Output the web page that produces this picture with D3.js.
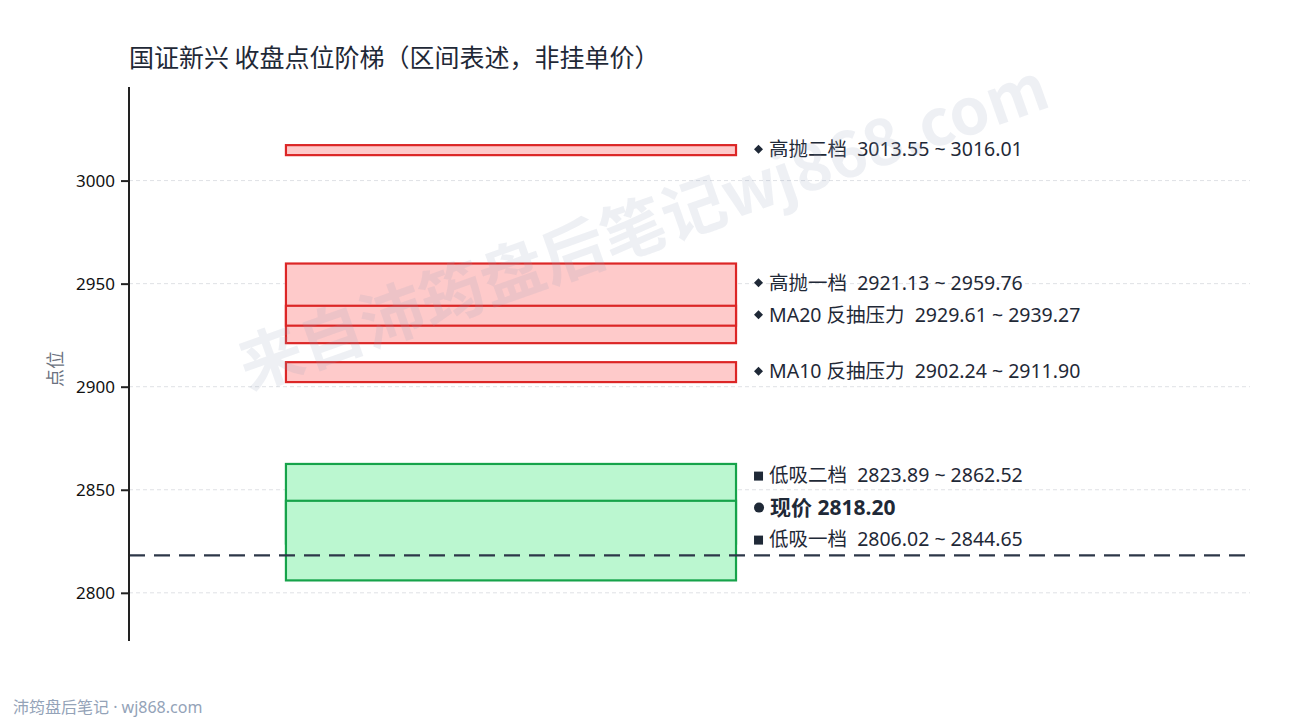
<!DOCTYPE html>
<html><head><meta charset="utf-8">
<script src="https://cdn.jsdelivr.net/npm/d3@7"></script>
<style>
html,body{margin:0;padding:0;background:#fff;}
svg{display:block;font-family:"Noto Sans","Noto Sans CJK SC",sans-serif;}
</style></head>
<body>
<svg id="chart" width="1290" height="720"></svg>
<script>
// ---- data ----
const zoneNames  = ["高抛二档", "高抛一档", "MA20 反抽压力", "MA10 反抽压力", "低吸二档", "低吸一档"];
const zoneLow    = [3013.55, 2921.13, 2929.61, 2902.24, 2823.89, 2806.02];
const zoneHigh   = [3016.01, 2959.76, 2939.27, 2911.90, 2862.52, 2844.65];
const zoneKind   = ["sell", "sell", "sell", "sell", "buy", "buy"];
const priceLabel = "现价";
const priceValue = 2818.20;
const yTicks     = [2800, 2850, 2900, 2950, 3000];
// label stacking order, top to bottom (zone index, or -1 for the price)
const labelOrder = [0, 1, 2, 3, 4, -1, 5];

const titleText = "国证新兴 收盘点位阶梯（区间表述，非挂单价）";
const yAxisTitle = "点位";
const footerText = "沛筠盘后笔记 · wj868.com";
const watermarkText = "来自沛筠盘后笔记wj868.com";

// ---- layout ----
const W = 1290, H = 720;
const L = 129, R = 1250, T = 87, B = 641;
const svg = d3.select("#chart");

const lo = d3.min(zoneLow), hi = d3.max(zoneHigh);
const pad = (hi - lo) * 0.14;
const y = d3.scaleLinear().domain([lo - pad, hi + pad]).range([B, T]);
const x = d3.scaleLinear().domain([0, 1]).range([L, R]);

// grid
svg.append("g").selectAll("line").data(yTicks).join("line")
  .attr("x1", L).attr("x2", R)
  .attr("y1", d => y(d)).attr("y2", d => y(d))
  .attr("stroke", "#dfe1e5").attr("stroke-width", 1).attr("stroke-dasharray", "4,3");

// zones
const colors = {
  sell: {fill: "#fecaca", stroke: "#dc2626"},
  buy:  {fill: "#bbf7d0", stroke: "#16a34a"}
};
const minH = 10;
const zoneIdx = d3.range(zoneNames.length);
svg.append("g").selectAll("rect").data(zoneIdx).join("rect")
  .attr("x", x(0.14)).attr("width", x(0.5415) - x(0.14))
  .attr("y", i => {
    const h = y(zoneLow[i]) - y(zoneHigh[i]);
    const m = (y(zoneLow[i]) + y(zoneHigh[i])) / 2;
    return h < minH ? m - minH / 2 : y(zoneHigh[i]);
  })
  .attr("height", i => Math.max(minH, y(zoneLow[i]) - y(zoneHigh[i])))
  .attr("fill", i => colors[zoneKind[i]].fill)
  .attr("stroke", i => colors[zoneKind[i]].stroke)
  .attr("stroke-width", 2.2);

// price line
svg.append("line")
  .attr("x1", L).attr("x2", R)
  .attr("y1", y(priceValue)).attr("y2", y(priceValue))
  .attr("stroke", "#2d3748").attr("stroke-width", 2.2).attr("stroke-dasharray", "16,9");

// axis
const axis = d3.axisLeft(y).tickValues(yTicks).tickFormat(d3.format("d")).tickSize(8).tickPadding(6);
const ag = svg.append("g").attr("transform", `translate(${L},0)`).call(axis);
ag.select(".domain").attr("d", `M0,${T}V${B}`).attr("stroke", "#222").attr("stroke-width", 2);
ag.selectAll(".tick line").attr("stroke", "#222").attr("stroke-width", 2);
ag.selectAll(".tick text").attr("font-size", 17).attr("fill", "#111")
  .attr("font-family", "'Noto Sans','Noto Sans CJK SC',sans-serif");

// y title
svg.append("text")
  .attr("transform", `translate(57,${(T + B) / 2 + 5}) rotate(-90)`)
  .attr("text-anchor", "middle").attr("dominant-baseline", "middle")
  .attr("font-family", "'Noto Sans CJK SC',sans-serif")
  .attr("font-size", 18).attr("fill", "#6b7280").text(yAxisTitle);

// title
svg.append("text").attr("x", L).attr("y", 67)
  .attr("font-family", "'Noto Sans CJK SC',sans-serif")
  .attr("font-size", 25).attr("fill", "#1f2937").text(titleText);

// footer
svg.append("text").attr("x", 13).attr("y", 713)
  .attr("font-size", 16).attr("fill", "#94a3b8").text(footerText);

// labels with collision avoidance (bottom-up)
const gap = 32;
const anchors = labelOrder.map(i => i < 0 ? y(priceValue) : (y(zoneLow[i]) + y(zoneHigh[i])) / 2);
const pos = anchors.slice();
for (let k = pos.length - 2; k >= 0; k--) pos[k] = Math.min(anchors[k], pos[k + 1] - gap);

const fmt = d3.format(".2f");
const lx = x(0.5415) + 18;
const lg = svg.append("g");
labelOrder.forEach((i, k) => {
  const g = lg.append("g").attr("transform", `translate(${lx},${pos[k] - 1})`);
  if (i < 0) {
    g.append("circle").attr("cx", 5).attr("cy", 0).attr("r", 5).attr("fill", "#1f2937");
    g.append("text").attr("x", 16).attr("dy", "0.35em").attr("font-size", 21).attr("font-weight", 700)
      .attr("fill", "#1f2937").text(`${priceLabel} ${fmt(priceValue)}`);
  } else {
    if (zoneKind[i] === "sell") {
      g.append("path").attr("d", "M4.5,-4.5L9,0L4.5,4.5L0,0Z").attr("fill", "#1f2937");
    } else {
      g.append("rect").attr("x", 0).attr("y", -4).attr("width", 9).attr("height", 9).attr("fill", "#1f2937");
    }
    g.append("text").attr("x", 15).attr("dy", "0.35em").attr("font-size", 19.5)
      .attr("fill", "#1f2937").attr("xml:space", "preserve")
      .text(`${zoneNames[i]}  ${fmt(zoneLow[i])} ~ ${fmt(zoneHigh[i])}`);
  }
});

// watermark (overlay)
svg.append("text")
  .attr("transform", "translate(645,232) rotate(-19.5)")
  .attr("text-anchor", "middle").attr("dominant-baseline", "middle")
  .attr("font-family", "'Noto Sans CJK SC',sans-serif")
  .attr("font-size", 64).attr("font-weight", 700)
  .attr("fill", "#94a3b8").attr("fill-opacity", 0.16)
  .text(watermarkText);
</script>
</body></html>
